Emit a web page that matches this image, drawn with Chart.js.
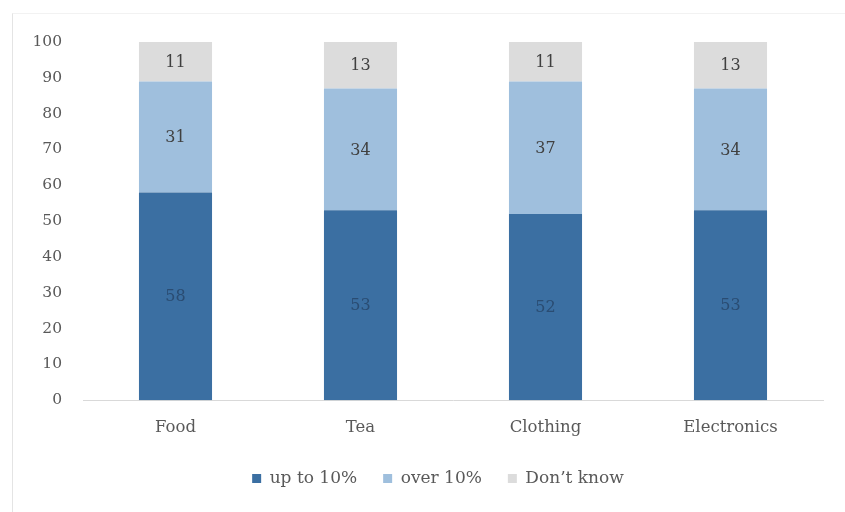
<!DOCTYPE html>
<html>
<head>
<meta charset="utf-8">
<script src="https://cdn.jsdelivr.net/npm/chart.js@4/dist/chart.umd.min.js"></script>
<style>
  html, body { margin: 0; padding: 0; background: #ffffff; }
  #wrap { position: relative; width: 845px; height: 512px; }
  #frame { position: absolute; left: 12px; top: 13px; right: 0; bottom: 0;
           border-left: 1px solid #e4e4e4; border-top: 1px solid #f2f2f2; pointer-events: none; }
  canvas { position: absolute; left: 0; top: 0; }
</style>
</head>
<body>
<div id="wrap">
  <canvas id="c" width="845" height="512"></canvas>
  <div id="frame"></div>
</div>
<script>
// Share of respondents by expected price rise, per product group
const categories = ['Food', 'Tea', 'Clothing', 'Electronics'];
const upTo10 = [58, 53, 52, 53];
const over10 = [31, 34, 37, 34];
const dontKnow = [11, 13, 11, 13];
const yTicks = [0, 10, 20, 30, 40, 50, 60, 70, 80, 90, 100];

const FONT = "'DejaVu Serif', serif";

// Writes each segment's value in the middle of its bar piece
const segmentValues = {
  id: 'segmentValues',
  afterDatasetsDraw(chart) {
    const ctx = chart.ctx;
    ctx.save();
    ctx.font = '16px ' + FONT;
    ctx.textAlign = 'center';
    ctx.textBaseline = 'middle';
    chart.data.datasets.forEach((ds, di) => {
      const meta = chart.getDatasetMeta(di);
      meta.data.forEach((bar, i) => {
        const mid = (bar.y + bar.base) / 2;
        ctx.fillStyle = ds.valueColor;
        ctx.fillText(String(ds.data[i]), bar.x, mid + 1);
      });
    });
    ctx.restore();
  }
};

// Nudges the legend block: a little right and closer to the axis labels
const legendOffset = {
  id: 'legendOffset',
  afterLayout(chart) {
    const lg = chart.legend;
    if (!lg) return;
    lg.left += 20; lg.right += 20;
    lg.top -= 12; lg.bottom -= 12;
  }
};

new Chart(document.getElementById('c'), {
  type: 'bar',
  data: {
    labels: categories,
    datasets: [
      { label: 'up to 10%', data: upTo10, backgroundColor: '#3b6fa2', valueColor: '#2a4c72' },
      { label: 'over 10%', data: over10, backgroundColor: '#9fbfdd', valueColor: '#404040' },
      { label: "Don’t know", data: dontKnow, backgroundColor: '#dcdcdc', valueColor: '#404040' }
    ]
  },
  options: {
    responsive: false,
    animation: false,
    layout: { padding: { left: 13, right: 22, top: 42, bottom: 3 } },
    datasets: { bar: { categoryPercentage: 1, barPercentage: 0.395 } },
    scales: {
      x: {
        stacked: true,
        grid: { display: false, drawTicks: false },
        border: { display: true, color: '#d9d9d9', width: 1 },
        ticks: { color: '#595959', font: { family: FONT, size: 16.5 }, padding: 18 }
      },
      y: {
        stacked: true,
        min: 0, max: 100,
        afterFit(scale) { scale.width = 70; },
        afterBuildTicks(scale) { scale.ticks = yTicks.map(v => ({ value: v })); },
        grid: { display: false, drawTicks: false },
        border: { display: false },
        ticks: { color: '#595959', font: { family: FONT, size: 15.5 }, padding: 21 }
      }
    },
    plugins: {
      legend: {
        position: 'bottom',
        labels: {
          boxWidth: 9, boxHeight: 9, padding: 26,
          color: '#595959',
          font: { family: FONT, size: 17 }
        }
      },
      tooltip: { enabled: false }
    }
  },
  plugins: [segmentValues, legendOffset]
});
</script>
</body>
</html>
